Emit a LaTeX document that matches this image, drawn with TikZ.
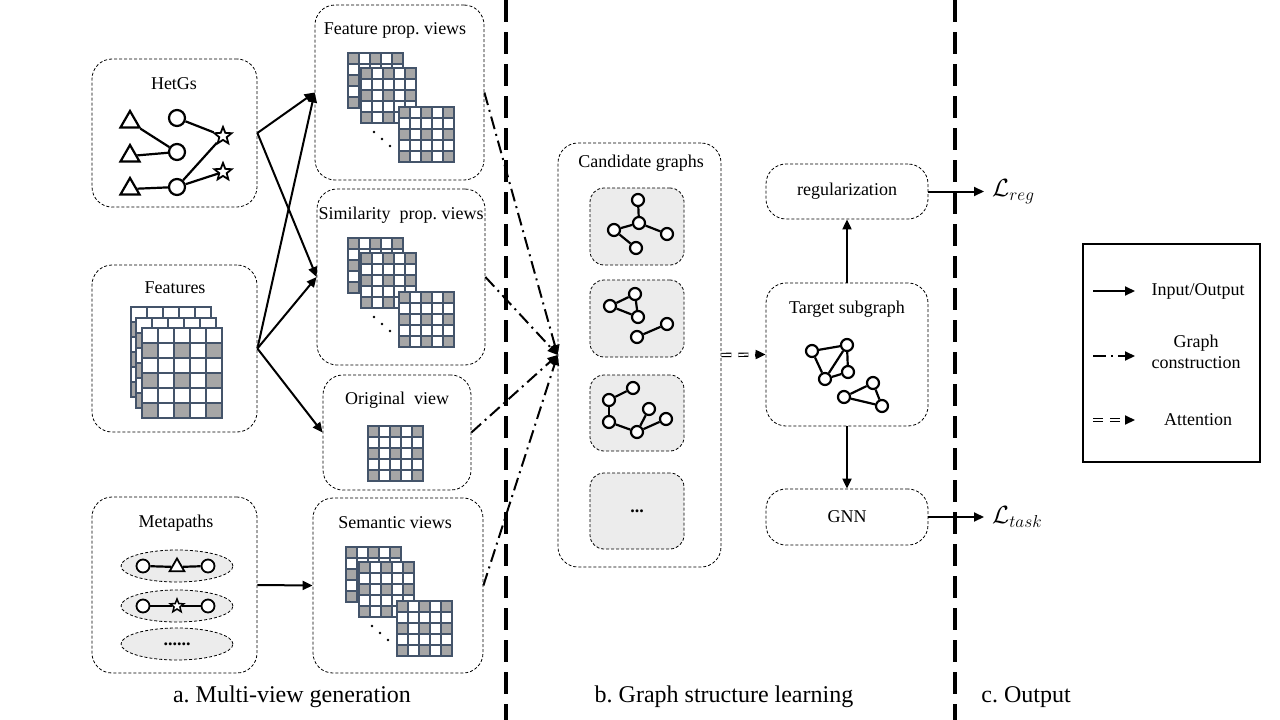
\documentclass[tikz,border=0pt]{standalone}
\usepackage{fontspec}
\setmainfont{Liberation Serif}
\usepackage{amsmath}
\usepackage{amssymb}
\usepackage{tikz}
\usetikzlibrary{positioning,shapes.geometric,arrows.meta}
\frenchspacing

\definecolor{gridblue}{RGB}{68,84,106}
\definecolor{cellgray}{RGB}{166,166,166}
\definecolor{boxgray}{RGB}{236,236,236}

% matrix icon: x, y, cols, rows, cell width, cell height, row offset
\newcommand{\grid}[7]{%
  \begin{scope}[shift={(#1,#2)}]
    \fill[white] (0,0) rectangle ({#3*#5},{#4*#6});
    \foreach \gc in {1,...,#3}{
      \foreach \gr in {1,...,#4}{
        \pgfmathtruncatemacro{\gon}{mod(\gr+#7,2)*mod(\gc,2)}
        \ifnum\gon=1 \fill[cellgray] ({(\gc-1)*#5},{(\gr-1)*#6}) rectangle ++(#5,#6);\fi
      }}
    \foreach \gc in {0,...,#3} \draw[gridblue, line width=2.3pt] ({\gc*#5},0) -- ({\gc*#5},{#4*#6});
    \foreach \gr in {0,...,#4} \draw[gridblue, line width=2.3pt] (0,{\gr*#6}) -- ({#3*#5},{\gr*#6});
    \draw[gridblue, line width=2.3pt] (0,0) rectangle ({#3*#5},{#4*#6});
  \end{scope}}

% three stacked views with dots
\newcommand{\viewstack}[2]{%
  \grid{#1}{#2}{5}{5}{11}{11}{0}
  \grid{#1+13}{#2+15}{5}{5}{11}{11}{0}
  \grid{#1+51}{#2+54}{5}{5}{11}{11}{0}
  \fill (#1+26,#2+79) circle (1.4pt);
  \fill (#1+34,#2+86) circle (1.4pt);
  \fill (#1+42,#2+93) circle (1.4pt);}

\begin{document}
\begin{tikzpicture}[x=1pt,y=-1pt,font=\fontsize{18}{21}\selectfont]
		\tikzstyle{grp}=[draw, rounded corners=20pt, line width=0.8pt, dash pattern=on 3pt off 2pt, inner sep=0pt]
		\tikzstyle{cbox}=[grp, fill=boxgray, rounded corners=14pt, minimum width=94pt]
		\tikzstyle{ell}=[ellipse, draw, line width=0.8pt, dash pattern=on 3pt off 2pt, fill=boxgray, minimum width=112pt, minimum height=32pt, inner sep=0pt]
		\tikzstyle{circ}=[circle, draw, line width=2.2pt, fill=white, minimum size=16pt, inner sep=0pt]
		\tikzstyle{tri}=[regular polygon, regular polygon sides=3, draw, line width=2.2pt, fill=white, minimum size=22pt, inner sep=0pt]
		\tikzstyle{st}=[star, star points=5, star point ratio=2.3, draw, line width=1.8pt, fill=white, minimum size=18pt, inner sep=0pt]
		\tikzstyle{vtx}=[circle, draw, line width=2.2pt, fill=white, minimum size=12pt, inner sep=0pt]
		\tikzstyle{link}=[line width=2.2pt]
		\tikzstyle{connect}=[-{Triangle[length=10pt,width=9pt]}, line width=2pt]
		\tikzstyle{construct}=[connect, dash pattern=on 13pt off 5pt on 2pt off 5pt]
		\tikzstyle{attend}=[double, double distance=2pt, line width=1.2pt, dash pattern=on 10pt off 7pt]
		\tikzstyle{sep}=[line width=3.5pt, dash pattern=on 22pt off 10pt]
		\useasboundingbox (0,0) rectangle (1280,720);
		
		% a. multi-view generation
		\node[grp, minimum width=165pt, minimum height=148pt] (hetgs) at (174.5,133) {};
		\node[grp, minimum width=165pt, minimum height=167pt] (feat) at (174.5,348.5) {};
		\node[grp, minimum width=165pt, minimum height=176pt] (meta) at (174.5,585) {};
		\node[grp, minimum width=169pt, minimum height=175pt] (fprop) at (399.5,92.5) {};
		\node[grp, minimum width=168pt, minimum height=176pt] (sprop) at (401,277) {};
		\node[grp, minimum width=148pt, minimum height=115pt] (orig) at (397,432.5) {};
		\node[grp, minimum width=170pt, minimum height=175pt] (sem) at (398,585.5) {};
		
		\node (hetgs-t) at (174,84) {HetGs};
		\node (feat-t) at (175,288) {Features};
		\node (meta-t) at (176,523) {Metapaths};
		\node (fprop-t) at (395,30) {Feature prop. views};
		\node (sprop-t) at (401,215) {Similarity~ prop. views};
		\node (orig-t) at (397,400) {Original~ view};
		\node (sem-t) at (395,523) {Semantic views};
		
		\node[tri] (ta) at (130,122) {};
		\node[tri] (tb) at (130,156) {};
		\node[tri] (tc) at (130,189) {};
		\node[circ] (ca) at (177,118) {};
		\node[circ] (cb) at (177,152) {};
		\node[circ] (cc) at (177,187) {};
		\node[st] (sa) at (223,136) {};
		\node[st] (sb) at (223,172) {};
		\path (ta) edge [link] (cb);
		\path (tb) edge [link] (cb);
		\path (tc) edge [link] (cc);
		\path (ca) edge [link] (sa);
		\path (cc) edge [link] (sa);
		\path (cc) edge [link] (sb);
		
		\grid{131}{307}{5}{6}{16}{15}{1}
		\grid{136}{318}{5}{6}{16}{15}{1}
		\grid{142}{328}{5}{6}{16}{15}{1}
		
		\node[ell] (e1) at (177,566) {};
		\node[ell] (e2) at (177,606) {};
		\node[ell] (e3) at (177,644) {\textbf{......}};
		\node[circ, minimum size=13pt, line width=1.8pt] (m1a) at (143,566) {};
		\node[tri, minimum size=17pt, line width=1.8pt] (m1b) at (177,567) {};
		\node[circ, minimum size=13pt, line width=1.8pt] (m1c) at (208,566) {};
		\node[circ, minimum size=13pt, line width=1.8pt] (m2a) at (143,606) {};
		\node[st, minimum size=14pt, line width=1.5pt] (m2b) at (177,606) {};
		\node[circ, minimum size=13pt, line width=1.8pt] (m2c) at (208,606) {};
		\path (m1a) edge [link] (m1b);
		\path (m1b) edge [link] (m1c);
		\path (m2a) edge [link] (m2b);
		\path (m2b) edge [link] (m2c);
		
		\viewstack{348}{53}
		\viewstack{348}{238}
		\viewstack{346}{547}
		\grid{368}{426}{5}{5}{11}{11}{0}
		
		\path (hetgs.east) edge [connect] (fprop.west);
		\path (hetgs.east) edge [connect] (sprop.west);
		\path (feat.east) edge [connect] (fprop.west);
		\path (feat.east) edge [connect] (sprop.west);
		\path (feat.east) edge [connect] (orig.west);
		\path (meta.east) edge [connect] (sem.west);
		
		% b. graph structure learning
		\node[grp, minimum width=163pt, minimum height=424pt] (cand) at (639.5,355) {};
		\node (cand-t) at (641,163) {Candidate graphs};
		\node[cbox, minimum height=77pt] (g1) at (637,226.5) {};
		\node[cbox, minimum height=77pt] (g2) at (637,318.5) {};
		\node[cbox, minimum height=76pt] (g3) at (637,413) {};
		\node[cbox, minimum height=76pt] (g4) at (637,511) {\textbf{...}};
		
		\node[vtx] (a1) at (638,200) {};
		\node[vtx] (a2) at (639,223) {};
		\node[vtx] (a3) at (614,230) {};
		\node[vtx] (a4) at (636,248) {};
		\node[vtx] (a5) at (667,234) {};
		\path (a1) edge [link] (a2);
		\path (a2) edge [link] (a3);
		\path (a2) edge [link] (a5);
		\path (a3) edge [link] (a4);
		
		\node[vtx] (b1) at (635,294) {};
		\node[vtx] (b2) at (610,306) {};
		\node[vtx] (b3) at (638,317) {};
		\node[vtx] (b4) at (667,324) {};
		\node[vtx] (b5) at (637,337) {};
		\path (b1) edge [link] (b2);
		\path (b2) edge [link] (b3);
		\path (b1) edge [link] (b3);
		\path (b5) edge [link] (b4);
		
		\node[vtx] (c1) at (633,388) {};
		\node[vtx] (c2) at (609,400) {};
		\node[vtx] (c3) at (609,422) {};
		\node[vtx] (c4) at (637,432) {};
		\node[vtx] (c5) at (649,409) {};
		\node[vtx] (c6) at (666,419) {};
		\path (c1) edge [link] (c2);
		\path (c2) edge [link] (c3);
		\path (c3) edge [link] (c4);
		\path (c4) edge [link] (c5);
		\path (c4) edge [link] (c6);
		
		\path (fprop.east) edge [construct] (cand.west);
		\path (sprop.east) edge [construct] (cand.west);
		\path (orig.east) edge [construct] (cand.west);
		\path (sem.east) edge [construct] (cand.west);
		
		\node[grp, minimum width=162pt, minimum height=55pt] (reg) at (847,191.5) {regularization};
		\node[grp, minimum width=162pt, minimum height=143pt] (target) at (847,354.5) {};
		\node[grp, minimum width=162pt, minimum height=56pt] (gnn) at (847,517) {GNN};
		\node (target-t) at (847,309) {Target subgraph};
		
		\node[vtx] (t1) at (812,351) {};
		\node[vtx] (t2) at (847,345) {};
		\node[vtx] (t3) at (848,372) {};
		\node[vtx] (t4) at (825,379) {};
		\node[vtx] (u1) at (873,383) {};
		\node[vtx] (u2) at (844,397) {};
		\node[vtx] (u3) at (882,406) {};
		\path (t1) edge [link] (t2);
		\path (t1) edge [link] (t4);
		\path (t2) edge [link] (t4);
		\path (t2) edge [link] (t3);
		\path (t3) edge [link] (t4);
		\path (u1) edge [link] (u2);
		\path (u2) edge [link] (u3);
		\path (u1) edge [link] (u3);
		
		\draw[attend, shorten >=9pt] (cand.east) -- (target.west);
		\draw[connect, shorten <=-1pt] ([xshift=-10pt]target.west) -- (target.west);
		\path (target) edge [connect] (reg);
		\path (target) edge [connect] (gnn);
		
		% c. output
		\node[anchor=west, inner sep=0pt] (lreg) at (992,191.5) {\fontsize{24}{26}\selectfont$\mathcal{L}_{reg}$};
		\node[anchor=west, inner sep=0pt] (ltask) at (992,517) {\fontsize{24}{26}\selectfont$\mathcal{L}_{task}$};
		\draw[connect, shorten >=8pt] (reg.east) -- (reg.east -| lreg.west);
		\draw[connect, shorten >=8pt] (gnn.east) -- (gnn.east -| ltask.west);
		
		\coordinate (sep1t) at (506,0);
		\coordinate (sep1b) at (506,720);
		\coordinate (sep2t) at (955,0);
		\coordinate (sep2b) at (955,720);
		\draw[sep] (sep1t) -- (sep1b);
		\draw[sep] (sep2t) -- (sep2b);
		
		% legend
		\node[draw, line width=1.5pt, minimum width=177pt, minimum height=218pt] (legend) at (1171.5,353) {};
		\coordinate (la1) at (1093,291);
		\coordinate (lb1) at (1135,291);
		\coordinate (la2) at (1093,356);
		\coordinate (lb2) at (1135,356);
		\coordinate (la3) at (1093,420);
		\coordinate (lb3) at (1135,420);
		\draw[connect] (la1) -- (lb1);
		\draw[construct] (la2) -- (lb2);
		\draw[attend, shorten >=9pt] (la3) -- (lb3);
		\draw[connect] ([xshift=-10pt]lb3) -- (lb3);
		\node (io) at (1198,291) {Input/Output};
		\node[align=center] (gc) at (1196,352) {Graph\\construction};
		\node (att) at (1198,420) {Attention};
		
		\node[font=\fontsize{24}{28}\selectfont] (capa) at (292,697) {a. Multi-view generation};
		\node[font=\fontsize{24}{28}\selectfont] (capb) at (724,697) {b. Graph structure learning};
		\node[font=\fontsize{24}{28}\selectfont] (capc) at (1026,697) {c. Output};
	\end{tikzpicture}
\end{document}
